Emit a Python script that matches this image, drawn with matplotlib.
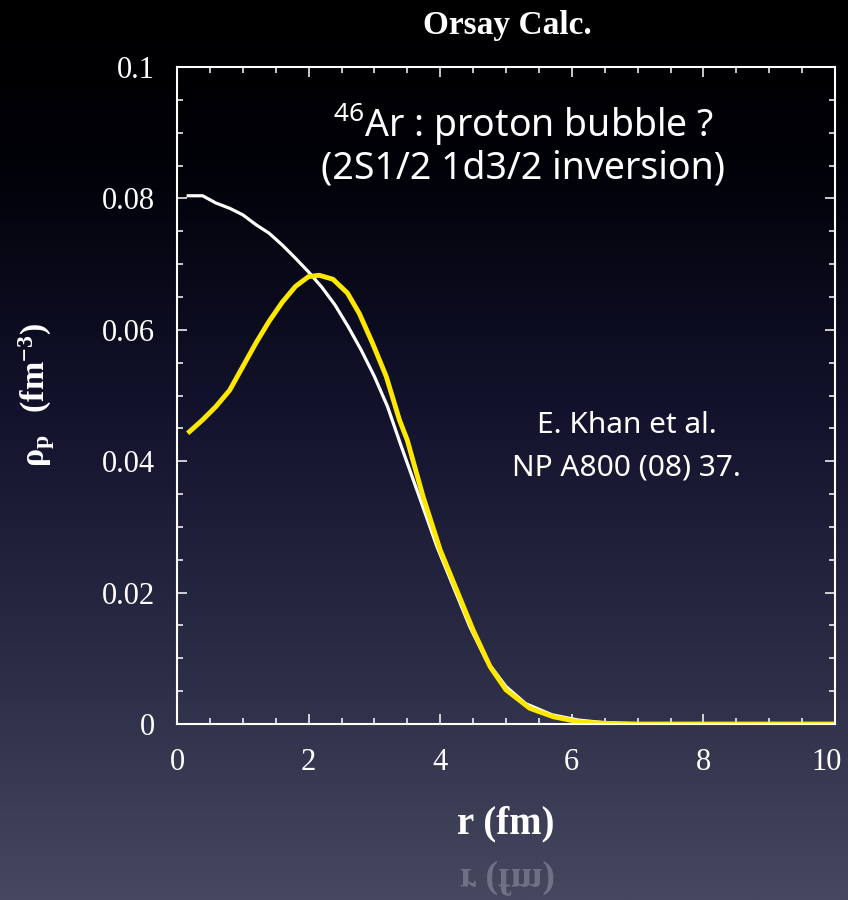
import matplotlib
matplotlib.use("Agg")
import matplotlib.pyplot as plt
import numpy as np
from matplotlib.font_manager import FontProperties
from matplotlib.patches import PathPatch
from matplotlib.textpath import TextPath
from matplotlib import transforms

plt.rcParams["font.family"] = ["Liberation Serif", "DejaVu Serif"]
plt.rcParams["mathtext.fontset"] = "custom"
plt.rcParams["mathtext.rm"] = "Liberation Serif"
plt.rcParams["mathtext.bf"] = "Liberation Serif:bold"
plt.rcParams["mathtext.sf"] = "Noto Sans"

# proton density, spherical HF (white)
r_sph = [0.17, 0.39, 0.59, 0.8, 1.0, 1.2, 1.4, 1.6, 1.8, 2.0, 2.2, 2.4, 2.6, 2.8,
         3.0, 3.2, 3.4, 3.7, 3.95, 4.2, 4.45, 4.7, 5.0, 5.3, 5.7, 6.1, 6.5, 7.0,
         8.0, 9.0, 10.0]
rho_sph = [0.0804, 0.0804, 0.0793, 0.0785, 0.0775, 0.0760, 0.0747, 0.0729, 0.0709,
           0.0688, 0.0665, 0.0638, 0.0605, 0.0569, 0.0529, 0.0483, 0.0425, 0.0341,
           0.0270, 0.0209, 0.0148, 0.0097, 0.0057, 0.0031, 0.0014, 0.0006, 0.0002,
           0.0, 0.0, 0.0, 0.0]

# proton density with 2s1/2 - 1d3/2 inversion (yellow)
r_inv = [0.19, 0.39, 0.59, 0.8, 1.0, 1.2, 1.4, 1.6, 1.8, 2.0, 2.16, 2.37, 2.59,
         2.77, 2.97, 3.18, 3.38, 3.5, 3.74, 4.0, 4.25, 4.5, 4.76, 5.0, 5.36, 5.72,
         6.12, 6.5, 7.0, 8.0, 9.0, 10.0]
rho_inv = [0.0445, 0.0463, 0.0483, 0.0508, 0.0544, 0.0580, 0.0613, 0.0642, 0.0666,
           0.0681, 0.0683, 0.0677, 0.0656, 0.0625, 0.0580, 0.0529, 0.0463, 0.0432,
           0.0346, 0.0265, 0.0204, 0.0143, 0.0087, 0.0052, 0.0024, 0.0011, 0.0003,
           0.0001, 0.0, 0.0, 0.0, 0.0]

x_ticks = [0, 2, 4, 6, 8, 10]
y_ticks = [0, 0.02, 0.04, 0.06, 0.08, 0.1]
y_ticklabels = ["0", "0.02", "0.04", "0.06", "0.08", "0.1"]

fig = plt.figure(figsize=(8.48, 9.0), dpi=100)

# dark slide background: black on top fading to slate blue
bg = fig.add_axes([0, 0, 1, 1], zorder=-10)
t = np.linspace(0, 1, 400)
stops = [0.0, 0.18, 0.45, 0.75, 1.0]
cols = np.array([[0, 0, 0], [1, 1, 8], [18, 18, 44], [44, 45, 70], [70, 72, 96]]) / 255
grad = np.stack([np.interp(t, stops, cols[:, k]) for k in range(3)], axis=-1)
bg.imshow(grad[:, None, :], aspect="auto", extent=[0, 1, 0, 1])
bg.set_axis_off()

ax = fig.add_axes([177 / 848, 176 / 900, 658 / 848, 657 / 900])
ax.patch.set_alpha(0)

ax.plot(r_sph, rho_sph, color="white", lw=2.3, solid_joinstyle="round")
ax.plot(r_inv, rho_inv, color="#ffe800", lw=3.5, solid_joinstyle="round")

ax.set_xlim(0, 10)
ax.set_ylim(0, 0.1)
ax.set_xticks(x_ticks)
ax.set_xticklabels([str(v) for v in x_ticks])
ax.set_yticks(y_ticks)
ax.set_yticklabels(y_ticklabels)
ax.set_xticks(np.arange(0, 10.01, 0.5), minor=True)
ax.set_yticks(np.arange(0, 0.1001, 0.005), minor=True)
ax.tick_params(which="both", direction="in", top=True, right=True,
               colors="white", width=1.1, labelsize=22)
ax.tick_params(axis="x", pad=17)
ax.tick_params(axis="y", pad=16)
ax.tick_params(which="major", length=7)
ax.tick_params(which="minor", length=4)
for s in ax.spines.values():
    s.set_color("white")
    s.set_linewidth(1.5)

# last x label sits against the right edge, nudge it inwards a little
last = ax.get_xticklabels()[-1]
last.set_transform(last.get_transform() +
                   transforms.ScaledTranslation(-6 / 72, 0, fig.dpi_scale_trans))

ax.set_xlabel("r (fm)", color="white", fontsize=28, fontweight="bold", labelpad=21)
ax.set_ylabel(r"$\mathbf{ρ_p\ \ (fm^{-3})}$", color="white", fontsize=24.5)
ax.yaxis.set_label_coords(-0.182, 0.5)

fig.text(0.598, 0.972, "Orsay Calc.", color="white", fontsize=24,
         fontweight="bold", ha="center", va="center")

ax.text(5.26, 0.0912, r"$\mathsf{^{46}}$Ar : proton bubble ?", color="white",
        family="Noto Sans", fontsize=27, fontweight="medium", ha="center", va="center")
ax.text(5.26, 0.0845, "(2S1/2 1d3/2 inversion)", color="white",
        family="Noto Sans", fontsize=27, fontweight="medium", ha="center", va="center")
ax.text(6.83, 0.0455, "E. Khan et al.", color="white", family="Noto Sans",
        fontsize=21.5, ha="center", va="center")
ax.text(6.83, 0.0390, "NP A800 (08) 37.", color="white", family="Noto Sans",
        fontsize=21.5, ha="center", va="center")

# mirrored axis title under the x label
fp = FontProperties(family="Liberation Serif", weight="bold")
tp = TextPath((0, 0), "r (fm)", size=38, prop=fp)
w = tp.get_extents().width
tr = transforms.Affine2D().scale(1, -1).translate(506 - w / 2, 900 - 869)
fig.patches.append(PathPatch(tp, transform=tr, facecolor="#9a9cb0",
                             edgecolor="none", alpha=0.5))

fig.savefig("out.png", dpi=100)
